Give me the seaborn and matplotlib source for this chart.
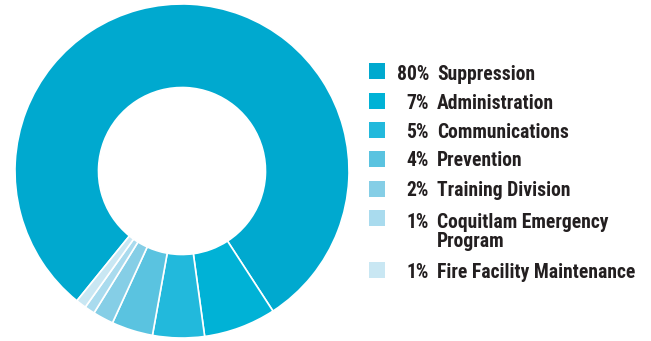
import matplotlib
matplotlib.use("Agg")
import matplotlib.pyplot as plt
from matplotlib.patches import Rectangle
from matplotlib import font_manager
import seaborn as sns

categories = ["Suppression", "Administration", "Communications", "Prevention",
              "Training Division", "Coquitlam Emergency\nProgram", "Fire Facility Maintenance"]
shares = [80, 7, 5, 4, 2, 1, 1]
pct_labels = ["80%", "7%", "5%", "4%", "2%", "1%", "1%"]
colors = ["#00a9cf", "#00b2d6", "#22b9dc", "#5ac3e0", "#85cee6", "#a9dbee", "#c9e7f3"]

sns.set_style("white")

# pick a narrow bold face if one is installed
entries = font_manager.fontManager.ttflist
names = {f.name for f in entries}
family, stretch = "Lato", "normal"
for cand in ["Liberation Sans Narrow", "Roboto Condensed", "Open Sans Condensed",
             "Noto Sans Condensed", "DejaVu Sans Condensed"]:
    if cand in names:
        family = cand
        break
else:
    if any(f.name == "DejaVu Sans" and f.stretch in ("condensed", "semi-condensed", 87.5, 75)
           for f in entries):
        family, stretch = "DejaVu Sans", "condensed"
font = dict(family=[family, "DejaVu Sans"], fontweight="bold", fontstretch=stretch,
            color="#231f20")

W, H = 651, 341
fig = plt.figure(figsize=(W / 100, H / 100), dpi=100)

# scale the legend text so the longest single-line label spans ~197 px
probe = fig.text(0, 0, "Fire Facility Maintenance", fontsize=13, **font)
fig.canvas.draw()
wpx = probe.get_window_extent().width
probe.remove()
fs = min(14.5, 13 * 197 / wpx)

# donut
cx, cy, r = 182, 171, 167
ax = fig.add_axes([(cx - r) / W, (H - cy - r) / H, 2 * r / W, 2 * r / H])
ax.pie(shares, colors=colors, startangle=231, counterclock=False, radius=1.0,
       wedgeprops=dict(width=0.5, edgecolor="white", linewidth=1.2))
ax.set_xlim(-1, 1)
ax.set_ylim(-1, 1)
ax.set_aspect("equal")
ax.axis("off")

# legend
rows_y = [72, 102, 131, 159, 189, 220, 270]
box_y = [71, 101, 130, 159, 189, 218, 270]
for y, by, c, p, lab in zip(rows_y, box_y, colors, pct_labels, categories):
    fig.patches.append(Rectangle((369 / W, (H - by - 8) / H), 16 / W, 16 / H,
                                 transform=fig.transFigure, facecolor=c,
                                 edgecolor="none"))
    fig.text(429 / W, (H - y) / H, p, ha="right", va="center_baseline",
             fontsize=fs, **font)
    for k, line in enumerate(lab.split("\n")):
        fig.text(437 / W, (H - y - 19.5 * k) / H, line, ha="left",
                 va="center_baseline", fontsize=fs, **font)

fig.savefig("out.png", dpi=100, facecolor="white")
